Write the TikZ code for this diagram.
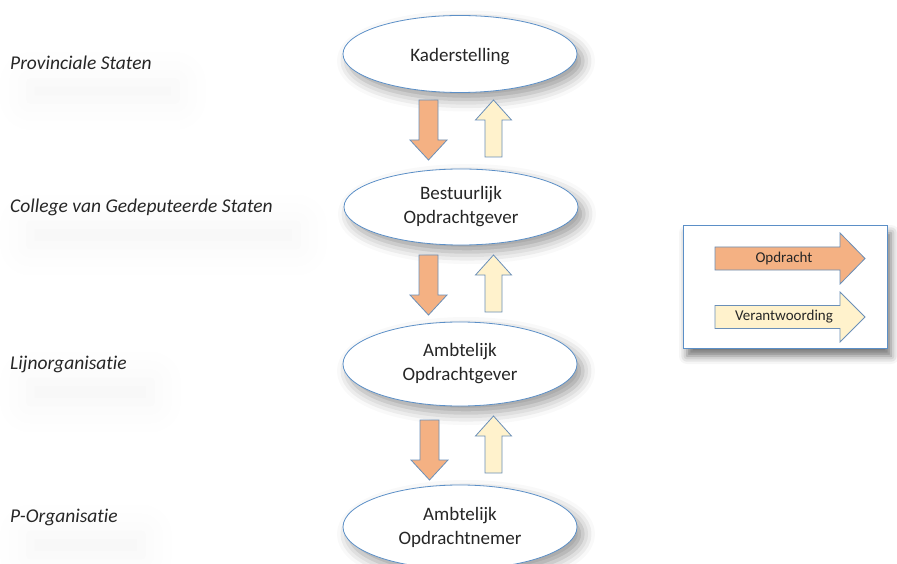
\documentclass[tikz,border=0pt]{standalone}
\usepackage{fontspec}
\setmainfont{Carlito}[Ligatures=NoCommon]
\usetikzlibrary{shapes.geometric,shadows.blur}
\definecolor{ellblue}{HTML}{5B8FC7}
\definecolor{arrblue}{HTML}{6A8FB8}
\definecolor{orangefill}{HTML}{F4B183}
\definecolor{yellowfill}{HTML}{FFF2CC}
\definecolor{txt}{HTML}{262626}
\tikzset{
  ellnode/.style={ellipse, draw=ellblue, line width=0.8pt, fill=white,
    minimum width=234pt, inner sep=0pt, align=center, text=txt,
    font=\fontsize{19}{24}\selectfont,
    blur shadow={shadow xshift=6pt, shadow yshift=-7pt, shadow blur radius=12pt, shadow opacity=40}},
  lvl/.style={anchor=west, inner sep=2pt, text=txt, font=\fontsize{19.5}{24}\selectfont\itshape,
    blur shadow={shadow xshift=22pt, shadow yshift=-28pt, shadow blur radius=30pt, shadow opacity=4}},
  opdr/.style={draw=arrblue, line width=0.8pt, fill=orangefill},
  verant/.style={draw=arrblue, line width=0.8pt, fill=yellowfill},
  legtxt/.style={text=txt, font=\fontsize{15}{18}\selectfont, inner sep=0pt},
  downarr/.pic={\path[opdr] (-9.5,0) -- (9.5,0) -- (9.5,40) -- (18.5,40) -- (0,60) -- (-18.5,40) -- (-9.5,40) -- cycle;},
  uparr/.pic={\path[verant] (0,0) -- (18,20) -- (8.5,20) -- (8.5,57) -- (-8.5,57) -- (-8.5,20) -- (-18,20) -- cycle;}
}
\begin{document}
\begin{tikzpicture}[x=1pt,y=-1pt]
\useasboundingbox (0,0) rectangle (897,564);
% level labels
\node[lvl] (l1) at (8,63) {Provinciale Staten};
\node[lvl] (l2) at (8,207) {College van Gedeputeerde Staten};
\node[lvl] (l3) at (8,364) {Lijnorganisatie};
\node[lvl] (l4) at (8,517) {P-Organisatie};
% ellipses
\node[ellnode, minimum height=77pt, text height=20pt, text depth=4pt] (e1) at (460,54) {Kaderstelling};
\node[ellnode, minimum height=76pt] (e2) at (461,207) {Bestuurlijk\\Opdrachtgever};
\node[ellnode, minimum height=84pt] (e3) at (460,364) {Ambtelijk\\Opdrachtgever};
\node[ellnode, minimum height=84pt] (e4) at (460,527) {Ambtelijk\\Opdrachtnemer};
% arrows
\pic at (428.5,100) {downarr};
\pic at (493.5,100) {uparr};
\pic at (428.5,255) {downarr};
\pic at (493.5,255) {uparr};
\pic at (429.5,420) {downarr};
\pic at (493.5,416) {uparr};
% legend
\path[fill=white, draw=ellblue, line width=0.6pt,
  blur shadow={shadow xshift=4pt, shadow yshift=-8pt, shadow blur radius=8pt, shadow opacity=55}]
  (683,225) rectangle (887,348);
\path[opdr] (715,247) -- (840,247) -- (840,233) -- (865,258.5) -- (840,284) -- (840,270) -- (715,270) -- cycle;
\path[verant] (715,305.5) -- (840,305.5) -- (840,292) -- (865,317) -- (840,342) -- (840,328.5) -- (715,328.5) -- cycle;
\node[legtxt] (t1) at (784,258.5) {Opdracht};
\node[legtxt] (t2) at (784,317) {Verantwoording};
\end{tikzpicture}
\end{document}
